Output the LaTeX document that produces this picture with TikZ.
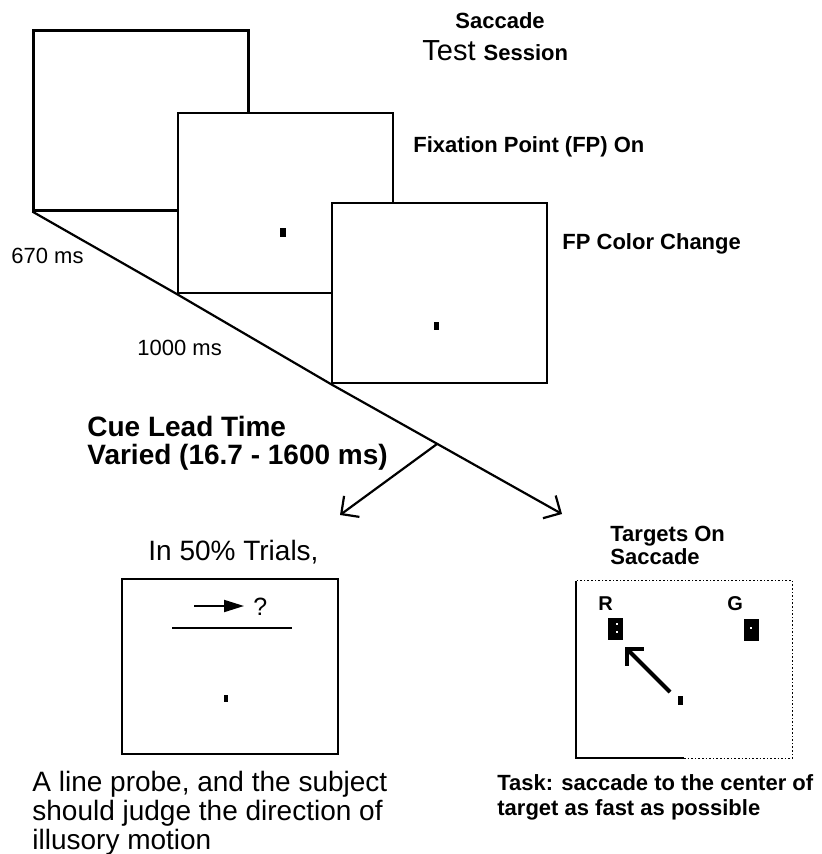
\documentclass[tikz,border=0pt]{standalone}
\usepackage{fontspec}
\setmainfont{Liberation Sans}
\usetikzlibrary{arrows.meta}

\begin{document}
\begin{tikzpicture}[x = 0.5pt, y = -0.5pt,
        screen/.style = {draw, fill = white, line width = 1.1pt, minimum width = 107.5pt, minimum height = 90pt, inner sep = 0pt},
        fixdot/.style = {fill = black, inner sep = 0pt, minimum width = 3pt, minimum height = 4.5pt},
        target/.style = {fill = black, inner sep = 0pt, minimum width = 7.5pt, minimum height = 11pt},
        speck/.style = {fill = white, inner sep = 0pt, minimum size = 1.3pt},
        flow/.style = {line width = 1.1pt, -{Straight Barb[length = 6.5pt, width = 13pt, line width = 1.1pt]}},
        txt/.style = {anchor = base west, inner sep = 0pt, font = \fontsize{11}{12.5}\selectfont},
        txtbf/.style = {txt, font = \fontsize{11}{12.5}\selectfont\bfseries},
        bigtxt/.style = {anchor = base west, inner sep = 0pt, font = \fontsize{14}{14.3}\selectfont},
        bigbf/.style = {bigtxt, font = \fontsize{14}{13.5}\selectfont\bfseries}]
    \useasboundingbox (0, 0) rectangle (821, 854);

    % test session screens
    \node[screen] (scr1) at (141, 120.5) {};
    \node[screen] (scr2) at (285.5, 203) {};
    \node[screen] (scr3) at (439.5, 293) {};
    \node[fixdot] (fp2) at (283, 233) {};
    \node[fixdot, minimum width = 2.5pt, minimum height = 4pt] (fp3) at (436, 326) {};

    \node[txtbf] (head1) at (455, 29) {Saccade};
    \node[anchor = base west, inner sep = 0pt] (head2) at (422, 61) {\fontsize{14.5}{16}\selectfont Test \fontsize{11}{13}\selectfont\bfseries Session};
    \node[txtbf] (lbl2) at (413, 153) {Fixation Point (FP) On};
    \node[txtbf] (lbl3) at (562, 250) {FP Color Change};
    \node[txt] (dur1) at (11, 264) {670 ms};
    \node[txt] (dur2) at (137, 356) {1000 ms};

    % time line and the two branches
    \coordinate (tipR) at (562, 514);
    \coordinate (tipL) at (340, 515);
    \draw[flow] (scr1.south west) -- (scr2.south west) -- (scr3.south west) -- (tipR);
    \path (scr3.south west) -- (tipR) coordinate[pos = 0.46] (split);
    \draw[flow] (split) -- (tipL);
    \node[bigbf, align = left] (cue) at (87, 464) {Cue Lead Time\\Varied (16.7 - 1600 ms)};

    % probe trial
    \node[bigtxt] (half) at (148, 560) {In 50\% Trials,};
    \node[screen, minimum width = 108pt, minimum height = 87.5pt] (probe) at (230, 666.5) {};
    \coordinate (mvA) at (194, 606);
    \coordinate (mvB) at (244, 606);
    \draw[line width = 1pt, -{Triangle[length = 10pt, width = 6pt]}] (mvA) -- (mvB);
    \node[anchor = base west, inner sep = 0pt, font = \fontsize{12.5}{14}\selectfont] (qm) at (253, 615) {?};
    \coordinate (lnA) at (172, 628);
    \coordinate (lnB) at (292, 628);
    \draw[line width = 1pt] (lnA) -- (lnB);
    \node[fixdot, minimum width = 2pt, minimum height = 3.5pt] (fpL) at (226, 698) {};
    \node[bigtxt, align = left] (note) at (32, 849) {A line probe, and the subject\\should judge the direction of\\illusory motion};

    % saccade trial
    \node[txtbf, align = left, font = \fontsize{11}{11.5}\selectfont\bfseries] (tgtlbl) at (610, 564) {Targets On\\Saccade};
    \node[inner sep = 0pt, minimum width = 108pt, minimum height = 88.5pt] (tgt) at (684, 669.5) {};
    \draw[line width = 1pt] (tgt.north west) -- (tgt.south west) -- (tgt.south);
    \draw[densely dotted, line width = 0.8pt] (tgt.south) -- (tgt.south east) -- (tgt.north east) -- (tgt.north west);
    \node[txtbf, font = \fontsize{10}{12}\selectfont\bfseries] (labR) at (598, 610) {R};
    \node[txtbf, font = \fontsize{10}{12}\selectfont\bfseries] (labG) at (727, 610) {G};
    \node[target] (tR) at (615.5, 629) {};
    \node[target] (tG) at (751.5, 630) {};
    \foreach \p [count = \i] in {(617, 624), (617, 632), (751, 628)}{
        \node[speck] (sp\i) at \p {};
    }
    \node[fixdot, minimum width = 2.5pt] (fpR) at (680, 700) {};
    \coordinate (sacA) at (670, 692);
    \coordinate (sacB) at (625, 647);
    \draw[line width = 2pt, -{Straight Barb[length = 6pt, width = 12pt, line width = 2pt]}] (sacA) -- (sacB);
    \node[txtbf, align = left, font = \fontsize{11}{12.5}\selectfont\bfseries] (task) at (497, 815) {Task: saccade to the center of\\target as fast as possible};
\end{tikzpicture}
\end{document}
